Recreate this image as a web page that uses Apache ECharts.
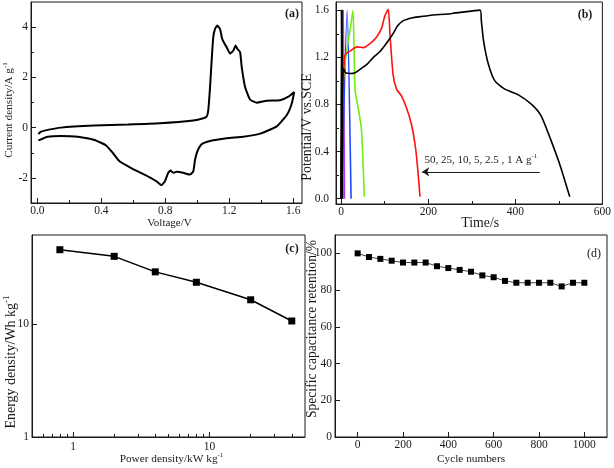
<!DOCTYPE html>
<html><head><meta charset="utf-8">
<script src="https://cdn.jsdelivr.net/npm/echarts@6/dist/echarts.min.js"></script>
<style>html,body{margin:0;padding:0;background:#fff}#c{width:614px;height:468px}</style>
</head><body><div id="c"></div>
<script>
const FONT = 'Liberation Serif';
const INK = '#1a1a1a';
const FS = 11.5;

// ---- Panel (a): cyclic voltammogram (closed loop) ----
const cvVoltage = [0.006, 0.02, 0.044, 0.148, 0.357, 0.566, 0.766, 0.975, 1.038, 1.059, 1.069, 1.08, 1.09, 1.10, 1.111, 1.125,
  1.142, 1.155, 1.17, 1.184, 1.205, 1.226, 1.24, 1.25, 1.268, 1.278, 1.299, 1.33, 1.372, 1.435, 1.518, 1.57, 1.606,
  1.591, 1.56, 1.497, 1.393, 1.288, 1.184, 1.08, 1.027, 1.0, 0.986, 0.975, 0.954, 0.912, 0.871, 0.85, 0.833, 0.818, 0.798, 0.776,
  0.743, 0.67, 0.587, 0.514, 0.472, 0.43, 0.357, 0.252, 0.148, 0.065, 0.006];
const cvCurrent = [-0.26, -0.17, -0.12, 0.0, 0.08, 0.12, 0.17, 0.28, 0.37, 0.44, 0.70, 1.62, 2.68, 3.6, 3.93, 4.06,
  3.93, 3.55, 3.35, 3.2, 2.95, 3.07, 3.27, 3.14, 3.0, 2.41, 1.62, 1.12, 0.99, 1.07, 1.09, 1.23, 1.42,
  0.96, 0.5, 0.05, -0.24, -0.36, -0.42, -0.53, -0.66, -0.95, -1.28, -1.74, -1.87, -1.8, -1.76, -1.8, -1.71, -1.8, -2.13, -2.29,
  -2.13, -1.87, -1.61, -1.34, -1.01, -0.71, -0.49, -0.36, -0.33, -0.36, -0.51];
const cvXTicks = [0, 0.4, 0.8, 1.2, 1.6];
const cvXMinor = [0.2, 0.6, 1.0, 1.4];
const cvYTicks = [-2, 0, 2, 4];
const cvYMinor = [-1, 1, 3];

// ---- Panel (b): galvanostatic charge/discharge ----
const gcdNames = ['50 A g-1', '25 A g-1', '10 A g-1', '5 A g-1', '2.5 A g-1', '1 A g-1'];
const gcdColors = ['#000000', '#b535f5', '#2244ff', '#6fee10', '#ff1010', '#000000'];
const t50 = [0, 1.2, 2.5];
const v50 = [0, 1.6, 0];
const t25 = [0, 4.5, 7.5];
const v25 = [0, 1.6, 0];
const t10 = [1, 13.6, 22.6];
const v10 = [0, 1.6, 0];
const t5 = [0, 3, 7.5, 13.6, 21, 27, 30, 32, 40, 46, 49, 53];
const v5 = [0, 0.9, 1.11, 1.28, 1.45, 1.6, 1.17, 0.917, 0.749, 0.608, 0.41, 0.017];
const t25b = [0, 5, 7.5, 9.7, 21, 36, 51, 66, 81.5, 93, 100, 108, 112, 119, 127, 138, 149.5, 161, 170.5, 176, 181];
const v25b = [0, 1.0, 1.2, 1.227, 1.255, 1.289, 1.283, 1.317, 1.373, 1.45, 1.55, 1.607, 1.396, 1.058, 0.93, 0.875, 0.776, 0.636, 0.439, 0.242, 0.017];
const t1 = [0, 2, 4, 6, 9.7, 21, 32, 44, 59, 74, 89, 104, 119, 130, 142, 164, 180, 202, 255, 319, 322, 327, 338, 353, 376, 406, 436, 459, 482, 504, 525];
const v1 = [0, 0.8, 1.08, 1.10, 1.07, 1.063, 1.07, 1.10, 1.14, 1.2, 1.25, 1.32, 1.40, 1.47, 1.51, 1.536, 1.545, 1.556, 1.573, 1.601, 1.508, 1.34, 1.143, 1.0, 0.93, 0.884, 0.805, 0.706, 0.495, 0.27, 0.017];
const gcdXTicks = [0, 200, 400, 600];
const gcdXMinor = [100, 300, 500];
const gcdYTicks = [0, 0.4, 0.8, 1.2, 1.6];
const gcdYMinor = [0.2, 0.6, 1.0, 1.4];
const arrowFrom = [456, 0.228];
const arrowTo = [186, 0.228];

// ---- Panel (c): Ragone plot ----
const powerDensity = [0.8, 2, 4, 8, 20, 40];
const energyDensity = [45.9, 40.1, 29.2, 23.6, 16.5, 10.7];
const ragXTicks = [1, 10];
const ragXMinor = [0.6, 0.7, 0.8, 0.9, 2, 3, 4, 5, 6, 7, 8, 9, 20, 30, 40];
const ragYTicks = [1, 10];

// ---- Panel (d): cycling stability ----
const cycles = [0, 50, 100, 150, 200, 250, 300, 350, 400, 450, 500, 550, 600, 650, 700, 750, 800, 850, 900, 950, 1000];
const retention = [100, 98, 97, 96, 95, 95, 95, 93, 92, 91, 90, 88, 87, 85, 84, 84, 84, 84, 82, 84, 84];
const cycXTicks = [0, 200, 400, 600, 800, 1000];
const cycYTicks = [0, 20, 40, 60, 80, 100];

const zip = (a, b) => a.map((x, i) => [x, b[i]]);
function richFor(fs) {
  return {
    t: {fontFamily: FONT, fontSize: fs, color: INK, lineHeight: Math.round(fs * 1.3)},
    s: {fontFamily: FONT, fontSize: Math.round(fs * 0.65), color: INK, lineHeight: Math.round(fs * 0.65), verticalAlign: 'top'}
  };
}
function nameStyle(fs, pad) {
  return {fontFamily: FONT, fontSize: fs, color: INK, lineHeight: Math.round(fs * 1.3), rich: richFor(fs), padding: pad};
}

function mainAxis(gi, type, min, max, ticks, fmt, margin, name, gap, pos, nfs, npad) {
  return {
    gridIndex: gi, type: type, min: min, max: max, position: pos,
    logBase: 10,
    axisLine: {show: true, onZero: false, lineStyle: {color: INK, width: 1}},
    axisTick: {show: true, inside: true, length: 5, customValues: ticks, lineStyle: {color: INK, width: 1}},
    axisLabel: {customValues: ticks, formatter: fmt, color: INK, fontFamily: FONT, fontSize: FS, margin: margin},
    splitLine: {show: false},
    name: name, nameLocation: 'middle', nameGap: gap, nameMoveOverlap: false, nameTextStyle: nameStyle(nfs, npad)
  };
}
function minorAxis(gi, type, min, max, ticks, pos) {
  return {
    gridIndex: gi, type: type, min: min, max: max, position: pos, logBase: 10,
    axisLine: {show: false, onZero: false},
    axisTick: {show: true, inside: true, length: 3, customValues: ticks, lineStyle: {color: INK, width: 1}},
    axisLabel: {show: false}, splitLine: {show: false}
  };
}
const f1 = v => Number(v).toFixed(1);
const f0 = v => String(Math.round(v));

const gridStyle = {show: true, borderColor: INK, borderWidth: 1, backgroundColor: 'transparent', containLabel: false};

const gcdSeries = [[t50, v50], [t25, v25], [t10, v10], [t5, v5], [t25b, v25b], [t1, v1]].map((p, i) => ({
  type: 'line', name: gcdNames[i], xAxisIndex: 2, yAxisIndex: 2,
  data: zip(p[0], p[1]), symbol: 'none', smooth: 0.2,
  lineStyle: {color: gcdColors[i], width: i === 0 ? 2.2 : 1.6}, itemStyle: {color: gcdColors[i]},
  z: i === 0 ? 6 : 3
}));
gcdSeries[5].markLine = {
  silent: true, symbol: ['none', 'arrow'], symbolSize: 7, animation: false,
  lineStyle: {color: INK, width: 1, type: 'solid'},
  label: {show: true, position: 'middle', distance: 5, formatter: '{t|50, 25, 10, 5, 2.5 , 1 A g}{s|-1}', rich: richFor(11)},
  emphasis: {disabled: true},
  data: [[{coord: arrowFrom}, {coord: arrowTo}]]
};

const option = {
  animation: false,
  backgroundColor: '#fff',
  grid: [
    Object.assign({left: 31, top: 2, width: 271, height: 201}, gridStyle),
    Object.assign({left: 336, top: 2, width: 269, height: 202}, gridStyle),
    Object.assign({left: 32, top: 235, width: 273, height: 203}, gridStyle),
    Object.assign({left: 335, top: 235, width: 272, height: 202}, gridStyle)
  ],
  xAxis: [
    mainAxis(0, 'value', -0.04, 1.655, cvXTicks, f1, 2, 'Voltage/V', 13, 'bottom', 11, [0, 0, 0, 6]),
    minorAxis(0, 'value', -0.04, 1.655, cvXMinor, 'bottom'),
    mainAxis(1, 'value', -12, 600, gcdXTicks, f0, 2, 'Time/s', 10, 'bottom', 13.8, [0, 0, 0, 22]),
    minorAxis(1, 'value', -12, 600, gcdXMinor, 'bottom'),
    mainAxis(2, 'log', 0.5, 50, ragXTicks, f0, 4, '{t|Power density/kW kg}{s|-1}', 15, 'bottom', 11.3, [0, 0, 0, 6]),
    minorAxis(2, 'log', 0.5, 50, ragXMinor, 'bottom'),
    mainAxis(3, 'value', -100, 1100, cycXTicks, f0, 2, 'Cycle numbers', 15, 'bottom', 11.3, 0)
  ],
  yAxis: [
    mainAxis(0, 'value', -3, 5, cvYTicks, f0, 3, '{t|Current density/A g}{s|-1}', 14, 'left', 11.3, [0, 15, 0, 0]),
    minorAxis(0, 'value', -3, 5, cvYMinor, 'left'),
    mainAxis(1, 'value', -0.045, 1.67, gcdYTicks, f1, 7, 'Potential/V vs.SCE', 20, 'left', 13.8, [0, 48, 0, 0]),
    minorAxis(1, 'value', -0.045, 1.67, gcdYMinor, 'left'),
    mainAxis(2, 'log', 1, 62, ragYTicks, f0, 3, '{t|Energy density/Wh kg}{s|-1}', 12, 'left', 14, [0, 52, 0, 0]),
    mainAxis(3, 'value', 0, 110, cycYTicks, f0, 3, 'Specific capacitance retention/%', 14, 'left', 13.6, [0, 0, 0, 14])
  ],
  series: [
    {type: 'line', xAxisIndex: 0, yAxisIndex: 0, data: zip(cvVoltage, cvCurrent), symbol: 'none', smooth: 0.15,
     lineStyle: {color: '#000', width: 2}}
  ].concat(gcdSeries).concat([
    {type: 'line', xAxisIndex: 4, yAxisIndex: 4, data: zip(powerDensity, energyDensity), symbol: 'rect', symbolSize: 7,
     lineStyle: {color: '#000', width: 1.5}, itemStyle: {color: '#000'}},
    {type: 'line', xAxisIndex: 6, yAxisIndex: 5, data: zip(cycles, retention), symbol: 'rect', symbolSize: 6,
     lineStyle: {color: '#444', width: 1}, itemStyle: {color: '#000'}}
  ]),
  graphic: [
    {type: 'text', x: 292, y: 13.5, style: {text: '(a)', font: 'bold 12px "Liberation Serif"', fill: INK, align: 'center', verticalAlign: 'middle'}},
    {type: 'text', x: 585, y: 15, style: {text: '(b)', font: 'bold 12px "Liberation Serif"', fill: INK, align: 'center', verticalAlign: 'middle'}},
    {type: 'text', x: 292, y: 249, style: {text: '(c)', font: 'bold 12px "Liberation Serif"', fill: INK, align: 'center', verticalAlign: 'middle'}},
    {type: 'text', x: 594, y: 254, style: {text: '(d)', font: '12px "Liberation Serif"', fill: INK, align: 'center', verticalAlign: 'middle'}}
  ]
};
const chart = echarts.init(document.getElementById('c'), null, {renderer: 'canvas'});
chart.setOption(option);
</script>
</body></html>
